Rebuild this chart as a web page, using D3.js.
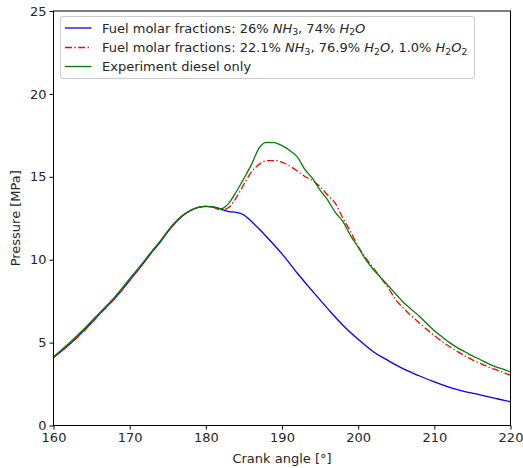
<!DOCTYPE html>
<html>
<head>
<meta charset="utf-8">
<script src="https://cdn.jsdelivr.net/npm/d3@7"></script>
<style>
  html, body { margin: 0; padding: 0; background: #fff; }
  svg text { font-family: "DejaVu Sans", sans-serif; fill: #262626; }
</style>
</head>
<body>
<div id="chart"></div>
<script>
// crank angle [deg] and pressure [MPa]
var blueAngle = [160, 162, 164, 166, 168, 170, 172, 173, 174, 175, 176, 177, 178, 179, 180, 181, 182, 183, 184, 185, 186, 187, 188, 190, 192, 194, 196, 198, 200, 202, 204, 206, 208, 210, 212, 214, 216, 218, 220];
var bluePress = [4.1, 4.85, 5.72, 6.7, 7.65, 8.75, 9.9, 10.5, 11.05, 11.68, 12.22, 12.66, 12.97, 13.16, 13.22, 13.18, 13.05, 12.9, 12.86, 12.7, 12.3, 11.85, 11.37, 10.35, 9.2, 8.1, 7.05, 6.05, 5.2, 4.45, 3.9, 3.4, 3.0, 2.63, 2.3, 2.05, 1.85, 1.63, 1.43];

var redAngle = [160, 162, 164, 166, 168, 170, 172, 173, 174, 175, 176, 177, 178, 179, 180, 181, 182, 183, 184, 185, 186, 187, 188, 189, 190, 191, 192, 193, 194, 195, 196, 197, 198, 199, 200, 201, 202, 203, 204, 205, 206, 207, 208, 209, 210, 211, 212, 213, 214, 215, 216, 217, 218, 219, 220];
var redPress = [4.1, 4.85, 5.7, 6.68, 7.63, 8.75, 9.92, 10.52, 11.08, 11.7, 12.24, 12.67, 12.97, 13.16, 13.22, 13.16, 13.0, 13.15, 13.75, 14.55, 15.3, 15.75, 15.97, 15.98, 15.88, 15.65, 15.35, 15.02, 14.78, 14.4, 13.9, 13.4, 12.5, 11.7, 10.8, 10.1, 9.5, 8.9, 8.25, 7.55, 7.05, 6.6, 6.2, 5.8, 5.42, 5.07, 4.76, 4.47, 4.2, 3.96, 3.75, 3.55, 3.38, 3.2, 3.04];

var greenAngle = [160, 162, 164, 166, 168, 170, 172, 173, 174, 175, 176, 177, 178, 179, 180, 181, 182, 183, 184, 185, 186, 187, 188, 189, 190, 191, 192, 193, 194, 195, 196, 197, 198, 199, 200, 201, 202, 203, 204, 205, 206, 207, 208, 209, 210, 211, 212, 213, 214, 215, 216, 217, 218, 219, 220];
var greenPress = [4.15, 4.95, 5.82, 6.78, 7.73, 8.85, 9.98, 10.56, 11.12, 11.74, 12.27, 12.69, 12.98, 13.16, 13.22, 13.17, 13.08, 13.4, 14.1, 14.9, 15.75, 16.75, 17.08, 17.06, 16.88, 16.6, 16.2, 15.45, 14.9, 14.2, 13.6, 12.85, 12.3, 11.45, 10.75, 10.0, 9.4, 8.9, 8.4, 7.9, 7.4, 7.0, 6.6, 6.15, 5.72, 5.35, 5.0, 4.7, 4.45, 4.2, 3.98, 3.75, 3.55, 3.4, 3.24];

var xTicks = [160, 170, 180, 190, 200, 210, 220];
var yTicks = [0, 5, 10, 15, 20, 25];

var legendRows = [
  [['Fuel molar fractions: 26% ', ''], ['NH', 'i'], ['3', 's'], [', 74% ', ''], ['H', 'i'], ['2', 's'], ['O', 'i']],
  [['Fuel molar fractions: 22.1% ', ''], ['NH', 'i'], ['3', 's'], [', 76.9% ', ''], ['H', 'i'], ['2', 's'], ['O', 'i'], [', 1.0% ', ''], ['H', 'i'], ['2', 's'], ['O', 'i'], ['2', 's']],
  [['Experiment diesel only', '']]
];

(function() {
  var width = 523, height = 468;
  var pLeft = 53.5, pRight = 510.5, pTop = 11, pBottom = 425.5;
  var fs = 13;

  var svg = d3.select('#chart').append('svg')
    .attr('width', width)
    .attr('height', height);

  var x = d3.scaleLinear().domain([160, 220]).range([pLeft, pRight]);
  var y = d3.scaleLinear().domain([0, 25]).range([pBottom, pTop]);

  var series = [
    { angle: blueAngle, press: bluePress, color: '#0000ff', dash: null },
    { angle: redAngle, press: redPress, color: '#ff0000', dash: '7,2.4,1.4,2.4' },
    { angle: greenAngle, press: greenPress, color: '#008000', dash: null }
  ];

  var line = d3.line()
    .x(function(d) { return x(d[0]); })
    .y(function(d) { return y(d[1]); })
    .curve(d3.curveMonotoneX);

  series.forEach(function(s) {
    svg.append('path')
      .datum(d3.zip(s.angle, s.press))
      .attr('d', line)
      .attr('fill', 'none')
      .attr('stroke', s.color)
      .attr('stroke-width', 1.3)
      .attr('stroke-dasharray', s.dash);
  });

  // frame
  svg.append('rect')
    .attr('x', pLeft).attr('y', pTop)
    .attr('width', pRight - pLeft).attr('height', pBottom - pTop)
    .attr('fill', 'none').attr('stroke', '#000').attr('stroke-width', 1);

  var xAxis = svg.append('g')
    .attr('transform', 'translate(0,' + pBottom + ')')
    .call(d3.axisBottom(x).tickValues(xTicks).tickSize(4).tickPadding(3));
  var yAxis = svg.append('g')
    .attr('transform', 'translate(' + pLeft + ',0)')
    .call(d3.axisLeft(y).tickValues(yTicks).tickSize(4).tickPadding(3));

  [xAxis, yAxis].forEach(function(a) {
    a.select('.domain').remove();
    a.selectAll('.tick line').attr('stroke', '#000');
    a.selectAll('.tick text')
      .attr('font-family', 'DejaVu Sans, sans-serif')
      .attr('font-size', fs)
      .attr('fill', '#262626');
  });

  svg.append('text')
    .attr('x', (pLeft + pRight) / 2)
    .attr('y', 463)
    .attr('text-anchor', 'middle')
    .attr('font-size', fs)
    .text('Crank angle [°]');

  svg.append('text')
    .attr('transform', 'translate(19.5,' + ((pTop + pBottom) / 2) + ') rotate(-90)')
    .attr('text-anchor', 'middle')
    .attr('font-size', fs)
    .text('Pressure [MPa]');

  // legend
  var legend = svg.append('g');
  legend.append('rect')
    .attr('x', 60.5).attr('y', 16.5)
    .attr('width', 414).attr('height', 62)
    .attr('rx', 2.5)
    .attr('fill', '#fff').attr('fill-opacity', 0.8)
    .attr('stroke', '#cccccc').attr('stroke-width', 1);

  var rowY = [28, 47.5, 66.5];
  legendRows.forEach(function(parts, i) {
    var s = series[i];
    legend.append('line')
      .attr('x1', 65).attr('x2', 91.5)
      .attr('y1', rowY[i]).attr('y2', rowY[i])
      .attr('stroke', s.color).attr('stroke-width', 1.3)
      .attr('stroke-dasharray', s.dash);

    var t = legend.append('text')
      .attr('x', 102)
      .attr('y', rowY[i] + 4.5)
      .attr('font-size', fs);
    parts.forEach(function(p, j) {
      var ts = t.append('tspan').text(p[0]);
      if (p[1] === 'i') ts.attr('font-style', 'italic');
      if (p[1] === 's') ts.attr('font-size', 9.3).attr('dy', 2.6);
      else if (j > 0 && parts[j - 1][1] === 's') ts.attr('dy', -2.6);
    });
  });
})();
</script>
</body>
</html>
